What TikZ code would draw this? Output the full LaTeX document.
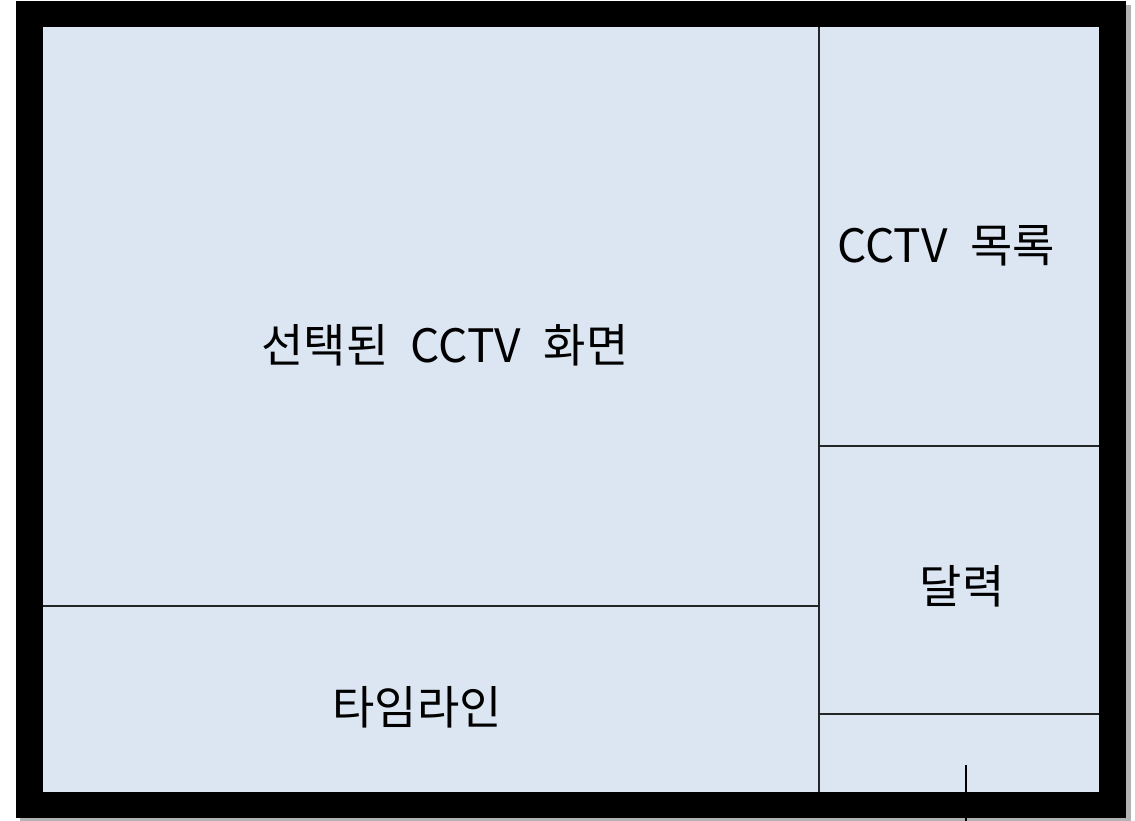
\documentclass[tikz,border=0pt]{standalone}
\usepackage{fontspec}
\newfontfamily\kfont[WordSpace=2.2]{Noto Sans CJK KR}
\usepackage{xcolor}
\usetikzlibrary{positioning}
\definecolor{screen}{HTML}{DCE6F2}
\tikzstyle{panel} = [font=\kfont\fontsize{46}{52}\selectfont, text=black, inner sep=0pt]
\tikzstyle{divider} = [line width=1.3pt, draw=black!85]

\begin{document}
\begin{tikzpicture}[x=1pt,y=-1pt]
    \useasboundingbox (0,0) rectangle (1135,820);
    \coordinate (otl) at (16,1);
    \coordinate (obr) at (1126,818);
    \coordinate (itl) at (43,27);
    \coordinate (ibr) at (1099,792);
    \fill[black!30] (20,5) rectangle (1131,822); %% shadow
    \fill[black] (otl) rectangle (obr); %% monitor frame
    \fill[screen] (itl) rectangle (ibr); %% screen

    \coordinate (vt) at (819,27);
    \coordinate (vb) at (819,792);
    \coordinate (r1l) at (819,446);
    \coordinate (r1r) at (1099,446);
    \coordinate (r2l) at (819,714);
    \coordinate (r2r) at (1099,714);
    \coordinate (ll) at (43,606);
    \coordinate (lr) at (819,606);
    \draw [divider] (vt) to (vb); %% right column
    \draw [divider] (r1l) to (r1r); %% list / calendar
    \draw [divider] (r2l) to (r2r); %% calendar / bottom
    \draw [divider] (ll) to (lr); %% view / timeline

    \coordinate (tkt) at (966,765);
    \coordinate (tkb) at (966,822);
    \draw [line width=2pt] (tkt) to (tkb); %% stand

    \node[panel] (view) at (445,345) {선택된 CCTV 화면};
    \node[panel] (list) at (946,246) {CCTV 목록};
    \node[panel] (cal) at (962,586) {달력};
    \node[panel] (time) at (417,707) {타임라인};
\end{tikzpicture}
\end{document}
